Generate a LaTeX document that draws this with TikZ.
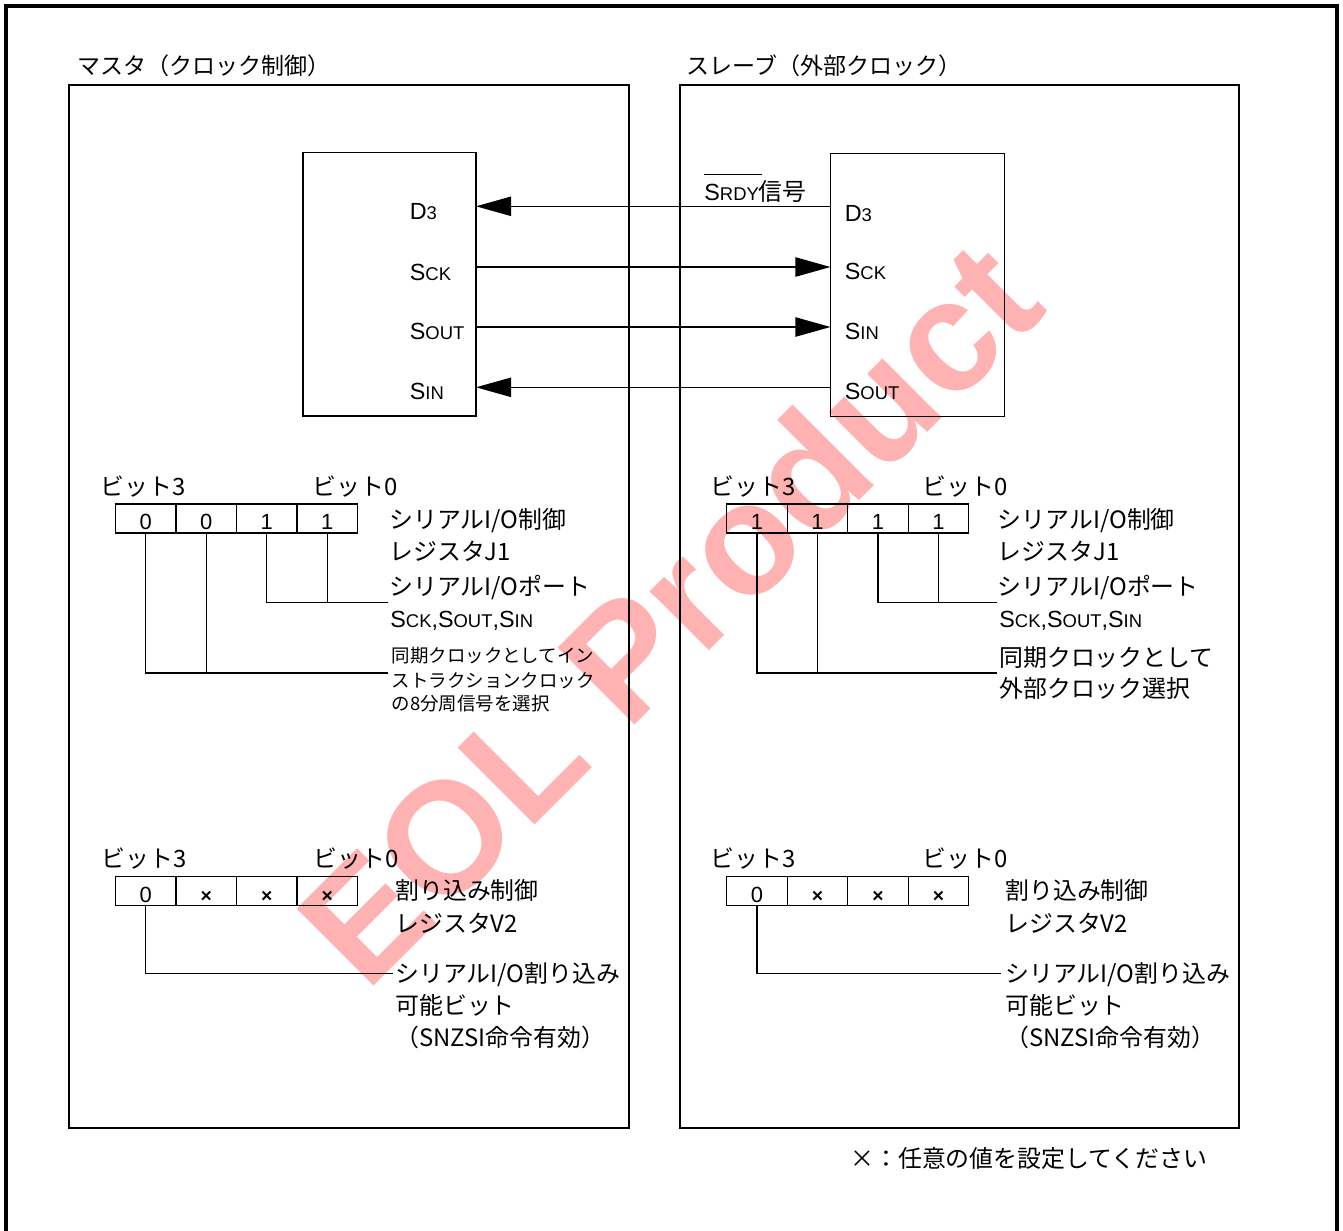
\documentclass[tikz,border=0pt]{standalone}
\usepackage{fontspec}
\setmainfont{Liberation Sans}
\newfontfamily\jp{Noto Sans CJK JP}
\usepackage{tikz}
\usetikzlibrary{arrows.meta}

\definecolor{eolred}{RGB}{255,178,178}

% signal name: capital letter + small capitals
\newcommand{\sig}[2]{#1{\fontsize{10.5}{12}\selectfont #2}}
% overlined signal name
\newcommand{\barsig}[1]{\setbox0=\hbox{#1}\rlap{\rule[\dimexpr\ht0+5pt\relax]{\dimexpr\wd0+2pt\relax}{0.6pt}}\box0}
\newcommand{\jbody}{\jp\fontsize{13.6}{16.3}\selectfont}

\begin{document}
\begin{tikzpicture}[
  x=0.02cm, y=-0.02cm,
  font=\fontsize{13.3}{16}\selectfont,
  panel/.style={draw, line width=1.3pt, minimum width=11.2cm, minimum height=20.86cm, inner sep=0pt},
  chip/.style={draw, line width=0.8pt, minimum height=5.27cm, inner sep=0pt},
  cell/.style={draw, line width=0.7pt, minimum width=1.21cm, minimum height=0.58cm,
    inner sep=0pt, text height=13pt, text depth=0pt, font=\fontsize{12.5}{14}\selectfont},
  xcell/.style={cell, font=\fontsize{11}{13}\selectfont\bfseries},
  pin/.style={anchor=base west, inner sep=0pt},
  jtxt/.style={anchor=base west, inner sep=0pt, font=\jbody},
  jsmall/.style={anchor=base west, inner sep=0pt, font=\jp\fontsize{10.5}{12}\selectfont},
  jtitle/.style={anchor=base west, inner sep=0pt, font=\jp\fontsize{13.1}{16}\selectfont},
  jnote/.style={anchor=base west, inner sep=0pt, font=\jp\fontsize{13.6}{16}\selectfont},
  lead/.style={line width=0.7pt},
  sigline/.style={line width=0.8pt, -{Triangle[length=20pt, width=11pt]}},
  watermark/.style={rotate=45, inner sep=0pt, text=eolred,
    font=\fontsize{90}{90}\selectfont\bfseries},
]
  \useasboundingbox (0,0) rectangle (1343,1231);

  % watermark behind everything
  \node[watermark] (eol) at (668,612) {EOL Product};

  % outer frame (open at the bottom)
  \draw[line width=1.8pt] (6,1231) -- (6,6) -- (1337,6) -- (1337,1231);

  % panels
  \node[panel] (mpanel) at (349,606.5) {};
  \node[panel, minimum width=11.18cm] (spanel) at (959.5,606.5) {};
  \node[jtitle] (mtitle) at (77,74) {マスタ（クロック制御）};
  \node[jtitle] (stitle) at (686,74) {スレーブ（外部クロック）};

  % chips
  \node[chip, minimum width=3.46cm] (master) at (389.5,284.25) {};
  \node[chip, minimum width=3.48cm] (slave) at (917.5,285) {};

  \node[pin] (mlD)  at (409.5,219.7) {\sig{D}{3}};
  \node[pin] (mlCK) at (409.5,280.7) {\sig{S}{CK}};
  \node[pin] (mlSO) at (409.5,339.7) {\sig{S}{OUT}};
  \node[pin] (mlSI) at (409.5,399.7) {\sig{S}{IN}};

  \node[pin] (slD)  at (844.5,221) {\sig{D}{3}};
  \node[pin] (slCK) at (844.5,279.7) {\sig{S}{CK}};
  \node[pin] (slSI) at (844.5,339.7) {\sig{S}{IN}};
  \node[pin] (slSO) at (844.5,399.7) {\sig{S}{OUT}};
  \node[pin] (srdy) at (704,200) {\barsig{\sig{S}{RDY}}{\jbody 信号}};

  \foreach \m/\s/\y in {D/D/206.3, CK/CK/267, SO/SI/327, SI/SO/387.3} {
    \coordinate (m\m) at (476,\y);
    \coordinate (s\s) at (830.5,\y);
  }
  \foreach \a/\b in {sD/mD, mCK/sCK, mSO/sSI, sSO/mSI} \draw[sigline] (\a) -- (\b);

  % master: serial I/O control register J1
  \node[jtxt] (mjb3) at (100,495) {ビット3};
  \node[jtxt] (mjb0) at (312,495) {ビット0};
  \foreach \v/\b [count=\k] in {0/3,0/2,1/1,1/0}
    \node[cell] (mj\b) at (85.25+60.5*\k,518.5) {\v};
  \node[jtxt] (mjname)  at (389,528) {シリアルI/O制御};
  \node[jtxt] (mjname2) at (389,560) {レジスタJ1};
  \node[jtxt] (mjport)  at (389,595.5) {シリアルI/Oポート};
  \node[pin]  (mjpins)  at (390,627.6) {\sig{S}{CK},\sig{S}{OUT},\sig{S}{IN}};
  \node[jsmall] (mjclk1) at (391.5,662) {同期クロックとしてイン};
  \node[jsmall] (mjclk2) at (391.5,687) {ストラクションクロック};
  \node[jsmall] (mjclk3) at (391.5,710) {の8分周信号を選択};
  \coordinate (mjportend) at (388,602.5);
  \coordinate (mjclkend) at (388,673);
  \foreach \b in {1,0} \draw[lead] (mj\b.south) |- (mjportend);
  \foreach \b in {3,2} \draw[lead] (mj\b.south) |- (mjclkend);

  % slave: serial I/O control register J1
  \node[jtxt] (sjb3) at (710,495) {ビット3};
  \node[jtxt] (sjb0) at (922,495) {ビット0};
  \foreach \v/\b [count=\k] in {1/3,1/2,1/1,1/0}
    \node[cell] (sj\b) at (696.55+60.5*\k,518.5) {\v};
  \node[jtxt] (sjname)  at (997.5,528) {シリアルI/O制御};
  \node[jtxt] (sjname2) at (997.5,560) {レジスタJ1};
  \node[jtxt] (sjport)  at (997.5,595.5) {シリアルI/Oポート};
  \node[pin]  (sjpins)  at (999,627.6) {\sig{S}{CK},\sig{S}{OUT},\sig{S}{IN}};
  \node[jtxt] (sjclk1)  at (999,666) {同期クロックとして};
  \node[jtxt] (sjclk2)  at (999,697.5) {外部クロック選択};
  \coordinate (sjportend) at (997,602.5);
  \coordinate (sjclkend) at (997,673);
  \foreach \b in {1,0} \draw[lead] (sj\b.south) |- (sjportend);
  \foreach \b in {3,2} \draw[lead] (sj\b.south) |- (sjclkend);

  % master: interrupt control register V2
  \node[jtxt] (mvb3) at (101,867.5) {ビット3};
  \node[jtxt] (mvb0) at (313,867.5) {ビット0};
  \node[cell] (mv3) at (145.75,891) {0};
  \foreach \b [count=\k] in {2,1,0}
    \node[xcell] (mv\b) at (145.75+60.5*\k,891) {×};
  \node[jtxt] (mvname)  at (395,899.6) {割り込み制御};
  \node[jtxt] (mvname2) at (395,932) {レジスタV2};
  \node[jtxt] (mvint)   at (395,982.6) {シリアルI/O割り込み};
  \node[jtxt] (mvint2)  at (395,1014) {可能ビット};
  \node[jtxt] (mvint3)  at (395,1046.7) {（SNZSI命令有効）};
  \coordinate (mvintend) at (393,973.6);
  \draw[lead] (mv3.south) |- (mvintend);

  % slave: interrupt control register V2
  \node[jtxt] (svb3) at (710,867.5) {ビット3};
  \node[jtxt] (svb0) at (922,867.5) {ビット0};
  \node[cell] (sv3) at (757.05,891) {0};
  \foreach \b [count=\k] in {2,1,0}
    \node[xcell] (sv\b) at (757.05+60.5*\k,891) {×};
  \node[jtxt] (svname)  at (1005,899.6) {割り込み制御};
  \node[jtxt] (svname2) at (1005,932) {レジスタV2};
  \node[jtxt] (svint)   at (1005,982.6) {シリアルI/O割り込み};
  \node[jtxt] (svint2)  at (1005,1014) {可能ビット};
  \node[jtxt] (svint3)  at (1005,1046.7) {（SNZSI命令有効）};
  \coordinate (svintend) at (1001,973.6);
  \draw[lead] (sv3.south) |- (svintend);

  \node[jnote] (note) at (850,1167) {×：任意の値を設定してください};
\end{tikzpicture}
\end{document}
